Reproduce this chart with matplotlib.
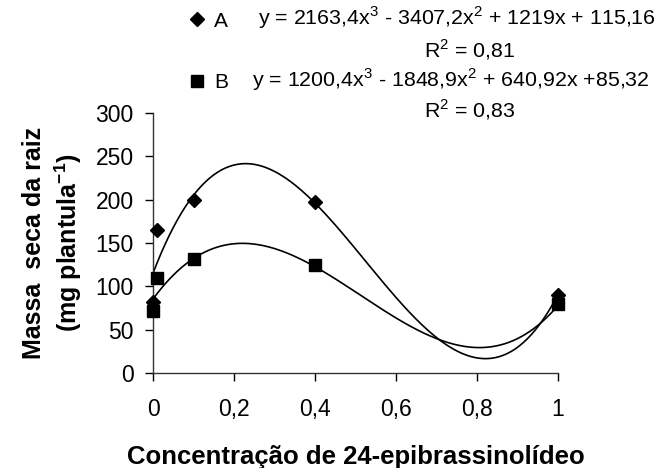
import numpy as np
import matplotlib
matplotlib.use("Agg")
from matplotlib import pyplot as plt

plt.rcParams['font.family'] = ['Liberation Sans', 'DejaVu Sans']
plt.rcParams['mathtext.fontset'] = 'custom'
plt.rcParams['mathtext.rm'] = 'Liberation Sans'
plt.rcParams['mathtext.bf'] = 'Liberation Sans:bold'

# Concentration of 24-epibrassinolide
conc = [0, 0.01, 0.1, 0.4, 1]
# Root dry mass (mg plantula-1)
mass_a = [82, 165, 200, 197, 90]
mass_b = [72, 110, 132, 125, 80]

# Cubic trendline coefficients shown in the legend (x^3, x^2, x, 1)
coef_a = [2163.4, -3407.2, 1219, 115.16]
coef_b = [1200.4, -1848.9, 640.92, 85.32]
eq_a = "y = 2163,4x$^3$ - 3407,2x$^2$ + 1219x + 115,16"
eq_b = "y = 1200,4x$^3$ - 1848,9x$^2$ + 640,92x +85,32"
r2_a = "R$^2$ = 0,81"
r2_b = "R$^2$ = 0,83"

xticks = [0, 0.2, 0.4, 0.6, 0.8, 1]
xtick_labels = ["0", "0,2", "0,4", "0,6", "0,8", "1"]
yticks = [0, 50, 100, 150, 200, 250, 300]

fig = plt.figure(figsize=(6.72, 4.68), dpi=100)
ax = fig.add_axes([0.2277, 0.203, 0.6025, 0.5555])

# Trendlines
xs = np.linspace(0, 1, 200)
ax.plot(xs, np.polyval(coef_a, xs), color='black', lw=1.2)
ax.plot(xs, np.polyval(coef_b, xs), color='black', lw=1.2)

# Observed points
ha, = ax.plot(conc, mass_a, 'D', color='black', ms=7.5, ls='none', clip_on=False, zorder=3)
hb, = ax.plot(conc, mass_b, 's', color='black', ms=8.5, ls='none', clip_on=False, zorder=3)

ax.set_xlim(0, 1)
ax.set_ylim(0, 300)
ax.set_xticks(xticks)
ax.set_xticklabels(xtick_labels)
ax.set_yticks(yticks)
ax.tick_params(direction='out', length=6, width=1, labelsize=16.5, colors='black')
ax.tick_params(axis='x', pad=12)
ax.tick_params(axis='y', pad=8)
for side in ['top', 'right']:
    ax.spines[side].set_visible(False)
for side in ['left', 'bottom']:
    ax.spines[side].set_color('#333333')
    ax.spines[side].set_linewidth(1)

ax.set_xlabel("Concentração de 24-epibrassinolídeo", fontsize=18.5, fontweight='bold', labelpad=17)
ax.set_ylabel("Massa  seca da raiz\n(mg plantula$^{\\mathbf{-1}}$)", fontsize=18,
              fontweight='bold', labelpad=8.5, multialignment='center', linespacing=1.25)

# Legend: markers with series names, equations as text
leg = fig.legend([ha, hb], ["A", "B"], loc='upper left', bbox_to_anchor=(0.272, 0.993),
                 frameon=False, fontsize=15, handlelength=0.6, handletextpad=0.5,
                 labelspacing=2.05, borderaxespad=0)
fig.text(258 / 672, 1 - 18 / 468, eq_a, fontsize=15.4, ha='left', va='center')
fig.text(470 / 672, 1 - 50 / 468, r2_a, fontsize=15.4, ha='center', va='center')
fig.text(252 / 672, 1 - 80 / 468, eq_b, fontsize=15.4, ha='left', va='center')
fig.text(470 / 672, 1 - 110 / 468, r2_b, fontsize=15.4, ha='center', va='center')

fig.savefig("out.png", dpi=100)
